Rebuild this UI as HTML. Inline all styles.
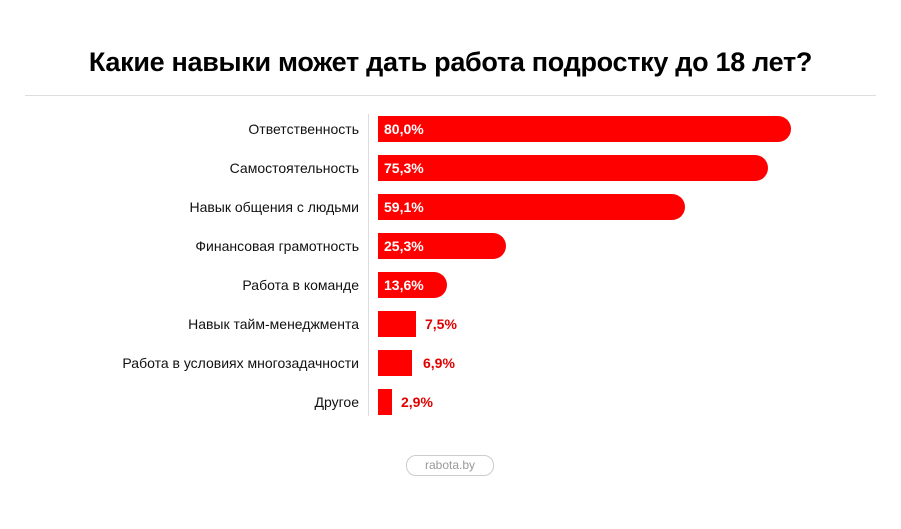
<!DOCTYPE html>
<html><head><meta charset="utf-8"><style>
body{margin:0;width:901px;height:529px;background:#fff;font-family:"Liberation Sans",sans-serif;position:relative;overflow:hidden}
.t{position:absolute;top:47px;left:0;width:901px;text-align:center;font-size:27px;font-weight:bold;color:#000;letter-spacing:-0.3px}
.sep{position:absolute;left:25px;width:851px;top:95px;height:1px;background:#ddd}
.ax{position:absolute;left:368px;top:114px;width:1px;height:302px;background:#ddd}
.b{position:absolute;left:378px;height:26px;background:#ff0000;border-radius:0 13px 13px 0}
.b.sq{border-radius:0}
.in{position:absolute;left:384px;height:26px;line-height:26px;color:#fff;font-weight:bold;font-size:14px}
.out{position:absolute;height:26px;line-height:26px;color:#e00000;font-weight:bold;font-size:14px}
.l{position:absolute;right:542px;height:26px;line-height:26px;font-size:14px;color:#111;text-align:right;white-space:nowrap}
.pill{position:absolute;left:406px;top:455px;width:86px;height:19px;border:1px solid #ccc;border-radius:10px;text-align:center;line-height:19px;font-size:12px;color:#999}
</style></head><body>
<div class="t">Какие навыки может дать работа подростку до 18 лет?</div>
<div class="sep"></div>
<div class="ax"></div>
<div class="l" style="top:116px">Ответственность</div>
<div class="l" style="top:155px">Самостоятельность</div>
<div class="l" style="top:194px">Навык общения с людьми</div>
<div class="l" style="top:233px">Финансовая грамотность</div>
<div class="l" style="top:272px">Работа в команде</div>
<div class="l" style="top:311px">Навык тайм-менеджмента</div>
<div class="l" style="top:350px">Работа в условиях многозадачности</div>
<div class="l" style="top:389px">Другое</div>
<div class="b" style="top:116px;width:413px"></div><div class="in" style="top:116px">80,0%</div>
<div class="b" style="top:155px;width:390px"></div><div class="in" style="top:155px">75,3%</div>
<div class="b" style="top:194px;width:307px"></div><div class="in" style="top:194px">59,1%</div>
<div class="b" style="top:233px;width:128px"></div><div class="in" style="top:233px">25,3%</div>
<div class="b" style="top:272px;width:69px"></div><div class="in" style="top:272px">13,6%</div>
<div class="b sq" style="top:311px;width:38px"></div><div class="out" style="top:311px;left:425px">7,5%</div>
<div class="b sq" style="top:350px;width:34px"></div><div class="out" style="top:350px;left:423px">6,9%</div>
<div class="b sq" style="top:389px;width:14px"></div><div class="out" style="top:389px;left:401px">2,9%</div>
<div class="pill">rabota.by</div>
</body></html>
